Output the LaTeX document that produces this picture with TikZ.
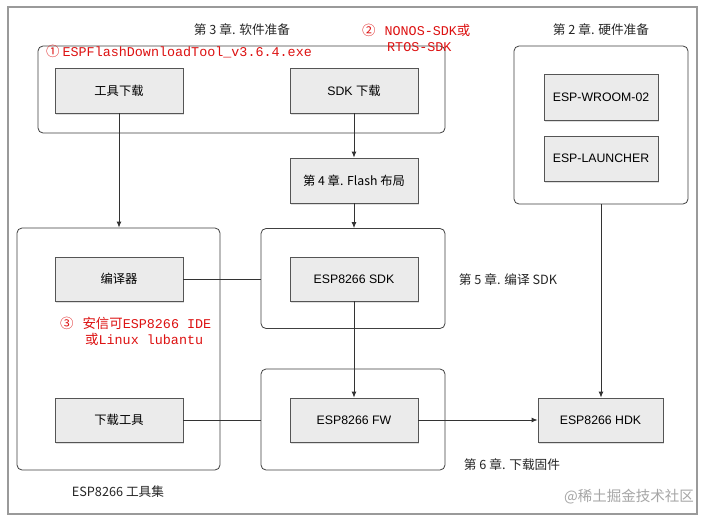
\documentclass[tikz,border=0pt]{standalone}
\usepackage{fontspec}
\setmainfont{Liberation Sans}
\setmonofont{Liberation Mono}
\newfontfamily\cjk{Noto Sans CJK SC}
\usetikzlibrary{arrows.meta,shadows}
\definecolor{boxfill}{HTML}{EBEBEB}
\definecolor{boxline}{HTML}{555555}
\definecolor{notered}{HTML}{DD1111}
\definecolor{framegray}{HTML}{9A9A9A}

\begin{document}
\begin{tikzpicture}[x=1pt,y=-1pt,
  box/.style={draw=boxline,fill=boxfill,line width=0.8pt,minimum width=128pt,minimum height=45pt,
    font=\fontsize{12.3}{14}\selectfont,
    drop shadow={shadow xshift=1pt,shadow yshift=-1.5pt,opacity=0.25}},
  group/.style={draw=black!75,line width=0.8pt,rounded corners=5pt},
  chap/.style={font=\cjk\fontsize{12.7}{15}\selectfont,text=black!85},
  note/.style={text=notered,font=\fontsize{13.4}{16}\selectfont,inner sep=0pt,anchor=west,align=left},
  link/.style={draw=black!80,line width=0.9pt},
  >={Latex[length=6pt,width=5pt]}]
\useasboundingbox (0,0) rectangle (713,522);
\fill[white] (0,0) rectangle (713,522);
\draw[framegray,line width=1.2pt] (8,7) rectangle (697,514);

% groups
\node[group,minimum width=407pt,minimum height=87pt] (grpsw) at (241.5,89.5) {};
\node[group,minimum width=174pt,minimum height=158pt] (grphw) at (601,125) {};
\node[group,minimum width=203pt,minimum height=242pt] (grptools) at (118.5,349) {};
\node[group,minimum width=184pt,minimum height=100pt] (grpsdk) at (353,278.5) {};
\node[group,minimum width=184pt,minimum height=101pt] (grpfw) at (353,419.5) {};

% boxes
\node[box] (tooldl) at (119,90.5) {\cjk 工具下载};
\node[box] (sdkdl) at (354,90.5) {SDK {\cjk 下载}};
\node[box,minimum width=114pt,minimum height=46pt] (wroom) at (601,97) {ESP-WROOM-02};
\node[box,minimum width=114pt] (launcher) at (601,158.5) {ESP-LAUNCHER};
\node[box] (flash) at (354,180.5) {\cjk 第 4 章. Flash 布局};
\node[box,minimum height=44pt] (compiler) at (119,279) {\cjk 编译器};
\node[box,minimum height=44pt] (sdk) at (354,279) {ESP8266 SDK};
\node[box,minimum height=44pt] (dltool) at (119,420) {\cjk 下载工具};
\node[box,minimum height=44pt] (fw) at (354,420) {ESP8266 FW};
\node[box,minimum width=125pt,minimum height=44pt] (hdk) at (600.5,420) {ESP8266 HDK};

% chapter labels
\node[chap] (chsw) at (242,30) {第 3 章. 软件准备};
\node[chap] (chhw) at (601,30) {第 2 章. 硬件准备};
\node[chap] (chsdk) at (508,280) {第 5 章. 编译 SDK};
\node[chap] (chfw) at (512,465) {第 6 章. 下载固件};
\node[chap] (chtools) at (118,492) {ESP8266 工具集};
\node[font=\cjk\fontsize{14.5}{16}\selectfont,text=black!35] (mark) at (629,497) {@稀土掘金技术社区};

% red notes
\node[note] (note1) at (46,52) {{\cjk ①}\hspace{3pt}\ttfamily ESPFlashDownloadTool\_v3.6.4.exe};
\node[note] (note2) at (362,38) {{\cjk ②}\hspace{9pt}\ttfamily NONOS-SDK{\cjk 或}\\\hspace*{25pt}\ttfamily RTOS-SDK};
\node[note] (note3) at (60,331) {{\cjk ③}\hspace{9pt}{\cjk 安信可}\ttfamily ESP8266 IDE\\\hspace*{25pt}{\cjk 或}\ttfamily Linux lubantu};

% connectors
\draw[link,->] (tooldl) -- (tooldl |- grptools.north);
\draw[link,->] (sdkdl) -- (flash);
\draw[link,->] (flash) -- (flash.south |- grpsdk.north);
\draw[link] (compiler) -- (compiler -| grpsdk.west);
\draw[link,->] (sdk) -- (fw);
\draw[link,->] (grphw.south) -- (grphw.south |- hdk.north);
\draw[link] (dltool) -- (dltool -| grpfw.west);
\draw[link,->] (fw) -- (hdk);
\end{tikzpicture}
\end{document}
